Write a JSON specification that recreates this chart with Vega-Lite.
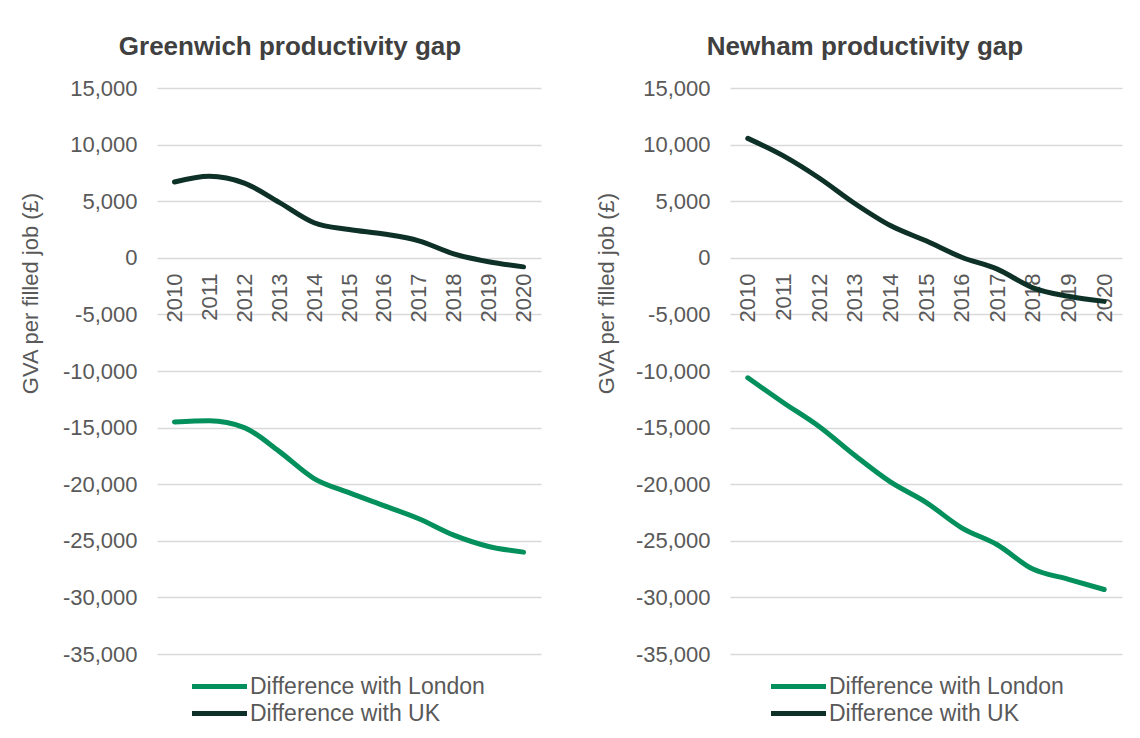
{
  "$schema": "https://vega.github.io/schema/vega-lite/v6.json",
  "background": "white",
  "padding": {"left": 19, "top": 34, "right": 5, "bottom": 5},
  "datasets": {
    "gap": [
      {"area": "Greenwich", "year": "2010", "series": "Difference with London", "value": -14500},
      {"area": "Greenwich", "year": "2011", "series": "Difference with London", "value": -14400},
      {"area": "Greenwich", "year": "2012", "series": "Difference with London", "value": -15000},
      {"area": "Greenwich", "year": "2013", "series": "Difference with London", "value": -17100},
      {"area": "Greenwich", "year": "2014", "series": "Difference with London", "value": -19500},
      {"area": "Greenwich", "year": "2015", "series": "Difference with London", "value": -20750},
      {"area": "Greenwich", "year": "2016", "series": "Difference with London", "value": -21900},
      {"area": "Greenwich", "year": "2017", "series": "Difference with London", "value": -23050},
      {"area": "Greenwich", "year": "2018", "series": "Difference with London", "value": -24500},
      {"area": "Greenwich", "year": "2019", "series": "Difference with London", "value": -25500},
      {"area": "Greenwich", "year": "2020", "series": "Difference with London", "value": -26000},
      {"area": "Greenwich", "year": "2010", "series": "Difference with UK", "value": 6700},
      {"area": "Greenwich", "year": "2011", "series": "Difference with UK", "value": 7200},
      {"area": "Greenwich", "year": "2012", "series": "Difference with UK", "value": 6600},
      {"area": "Greenwich", "year": "2013", "series": "Difference with UK", "value": 4900},
      {"area": "Greenwich", "year": "2014", "series": "Difference with UK", "value": 3100},
      {"area": "Greenwich", "year": "2015", "series": "Difference with UK", "value": 2500},
      {"area": "Greenwich", "year": "2016", "series": "Difference with UK", "value": 2100},
      {"area": "Greenwich", "year": "2017", "series": "Difference with UK", "value": 1500},
      {"area": "Greenwich", "year": "2018", "series": "Difference with UK", "value": 350},
      {"area": "Greenwich", "year": "2019", "series": "Difference with UK", "value": -350},
      {"area": "Greenwich", "year": "2020", "series": "Difference with UK", "value": -800},
      {"area": "Newham", "year": "2010", "series": "Difference with London", "value": -10600},
      {"area": "Newham", "year": "2011", "series": "Difference with London", "value": -12800},
      {"area": "Newham", "year": "2012", "series": "Difference with London", "value": -14900},
      {"area": "Newham", "year": "2013", "series": "Difference with London", "value": -17450},
      {"area": "Newham", "year": "2014", "series": "Difference with London", "value": -19800},
      {"area": "Newham", "year": "2015", "series": "Difference with London", "value": -21600},
      {"area": "Newham", "year": "2016", "series": "Difference with London", "value": -23850},
      {"area": "Newham", "year": "2017", "series": "Difference with London", "value": -25350},
      {"area": "Newham", "year": "2018", "series": "Difference with London", "value": -27500},
      {"area": "Newham", "year": "2019", "series": "Difference with London", "value": -28400},
      {"area": "Newham", "year": "2020", "series": "Difference with London", "value": -29300},
      {"area": "Newham", "year": "2010", "series": "Difference with UK", "value": 10550},
      {"area": "Newham", "year": "2011", "series": "Difference with UK", "value": 9000},
      {"area": "Newham", "year": "2012", "series": "Difference with UK", "value": 7050},
      {"area": "Newham", "year": "2013", "series": "Difference with UK", "value": 4800},
      {"area": "Newham", "year": "2014", "series": "Difference with UK", "value": 2850},
      {"area": "Newham", "year": "2015", "series": "Difference with UK", "value": 1500},
      {"area": "Newham", "year": "2016", "series": "Difference with UK", "value": 50},
      {"area": "Newham", "year": "2017", "series": "Difference with UK", "value": -1000},
      {"area": "Newham", "year": "2018", "series": "Difference with UK", "value": -2650},
      {"area": "Newham", "year": "2019", "series": "Difference with UK", "value": -3400},
      {"area": "Newham", "year": "2020", "series": "Difference with UK", "value": -3850}
    ]
  },
  "data": {"name": "gap"},
  "spacing": 54,
  "resolve": {"legend": {"color": "independent"}, "scale": {"color": "independent"}},
  "hconcat": [
    {
      "width": 384,
      "height": 566,
      "title": {"text": "Greenwich productivity gap", "dx": -59},
      "transform": [{"filter": "datum.area === 'Greenwich'"}],
      "mark": {"type": "line", "interpolate": "monotone", "strokeWidth": 5, "strokeCap": "round"},
      "encoding": {
        "x": {"field": "year", "type": "ordinal", "axis": {"offset": -396}},
        "y": {"field": "value", "type": "quantitative",
              "scale": {"domain": [-35000, 15000], "nice": false, "zero": false},
              "axis": {"title": "GVA per filled job (£)", "values": [-35000, -30000, -25000, -20000, -15000, -10000, -5000, 0, 5000, 10000, 15000], "labelExpr": "replace(format(datum.value, ',d'), '−', '-')", "titleX": -127, "titleY": 205}},
        "color": {"field": "series", "type": "nominal",
                  "scale": {"domain": ["Difference with London", "Difference with UK"], "range": ["#03905c", "#0e3127"]},
                  "legend": {"title": null, "orient": "none", "legendX": 49, "legendY": 585}}
      }
    },
    {
      "width": 392,
      "height": 566,
      "title": {"text": "Newham productivity gap", "dx": -61},
      "transform": [{"filter": "datum.area === 'Newham'"}],
      "mark": {"type": "line", "interpolate": "monotone", "strokeWidth": 5, "strokeCap": "round"},
      "encoding": {
        "x": {"field": "year", "type": "ordinal", "axis": {"offset": -396}},
        "y": {"field": "value", "type": "quantitative",
              "scale": {"domain": [-35000, 15000], "nice": false, "zero": false},
              "axis": {"title": "GVA per filled job (£)", "values": [-35000, -30000, -25000, -20000, -15000, -10000, -5000, 0, 5000, 10000, 15000], "labelExpr": "replace(format(datum.value, ',d'), '−', '-')", "titleX": -124, "titleY": 205}},
        "color": {"field": "series", "type": "nominal",
                  "scale": {"domain": ["Difference with London", "Difference with UK"], "range": ["#03905c", "#0e3127"]},
                  "legend": {"title": null, "orient": "none", "legendX": 55, "legendY": 585}}
      }
    }
  ],
  "config": {
    "font": "Liberation Sans",
    "view": {"stroke": null},
    "title": {"fontSize": 26, "fontWeight": "bold", "color": "#404040", "offset": 17, "anchor": "middle"},
    "axisX": {"title": null, "labelAngle": 270, "labelAlign": "right", "labelBaseline": "middle", "labelFontSize": 22, "labelColor": "#595959", "labelPadding": 15, "domain": false, "ticks": false, "grid": false, "labelOverlap": false},
    "axisY": {"labelFontSize": 22, "labelColor": "#595959", "labelPadding": 20, "domain": false, "ticks": false, "gridColor": "#d9d9d9", "gridWidth": 1.3, "titleFontSize": 22, "titleFontWeight": "normal", "titleColor": "#595959", "titleAlign": "center", "titleBaseline": "middle", "titleAngle": 270},
    "legend": {"symbolType": "M-2.5,0H2.5", "symbolSize": 484, "symbolStrokeWidth": 5, "labelFontSize": 23, "labelColor": "#595959", "labelOffset": 17, "rowPadding": 1, "direction": "vertical", "labelLimit": 400}
  }
}
